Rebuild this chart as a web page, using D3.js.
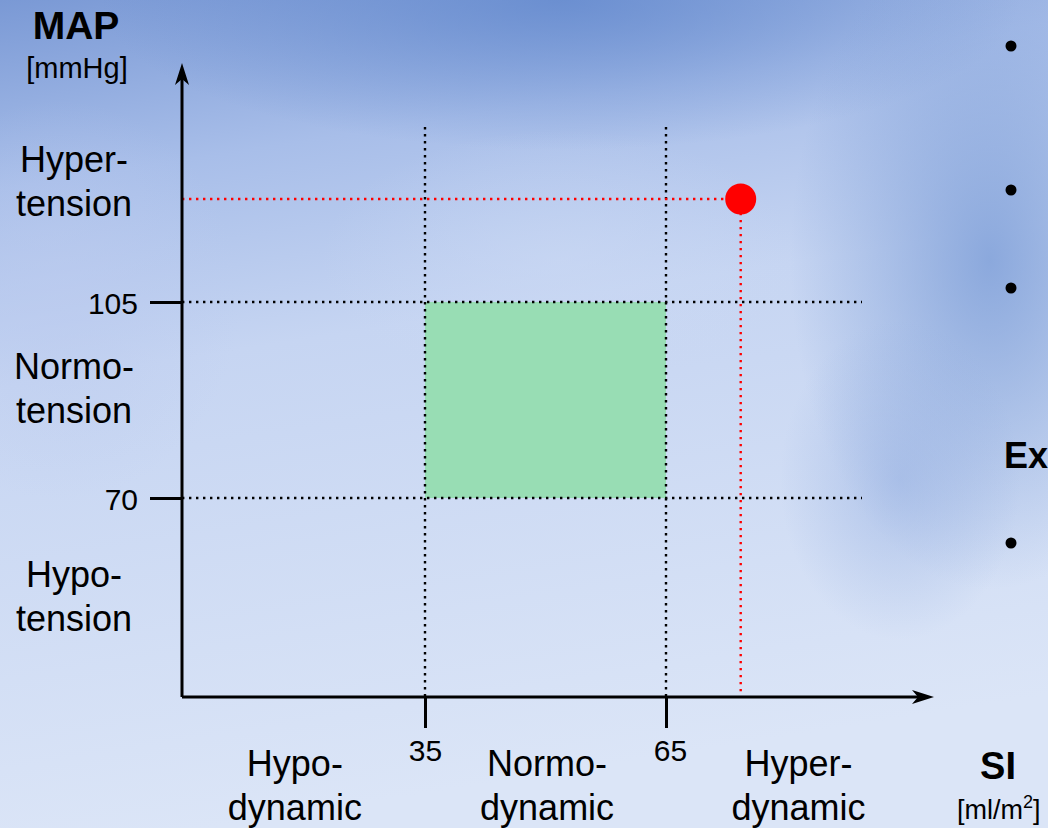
<!DOCTYPE html>
<html><head><meta charset="utf-8">
<script src="https://cdn.jsdelivr.net/npm/d3@7"></script>
<style>html,body{margin:0;padding:0;overflow:hidden;background:#c8d6f2}svg{display:block;font-family:"Liberation Sans",Arial,sans-serif}</style>
</head><body>
<script>
// ---- data ----
const siTicks = [35, 65];
const mapTicks = [70, 105];
const siCategories = [["Hypo-","dynamic"],["Normo-","dynamic"],["Hyper-","dynamic"]];
const mapCategories = [["Hyper-","tension"],["Normo-","tension"],["Hypo-","tension"]];
const siCategoryCenters = [18.8, 50.2, 81.5];   // SI values at label centres
const mapCategoryCenters = [128.2, 91.3, 54.1];  // MAP values at first-line baselines
const normalSI = [35, 65];
const normalMAP = [70, 105];
const patientSI = [74.3];
const patientMAP = [123.4];
const bulletRows = [46, 190, 288, 543];

const W = 1048, H = 828;
const svg = d3.select("body").append("svg").attr("width", W).attr("height", H);
const defs = svg.append("defs");

// background
const lg = defs.append("linearGradient").attr("id","bg").attr("x1","0").attr("y1","0").attr("x2","0.2").attr("y2","1");
[[0,"#7a99d5"],[0.22,"#a8bee9"],[0.45,"#c6d5f2"],[1,"#dbe5f7"]].forEach(s=>lg.append("stop").attr("offset",s[0]).attr("stop-color",s[1]));
svg.append("rect").attr("width",W).attr("height",H).attr("fill","url(#bg)");
function blob(id,cx,cy,r,col,op){
  const rg=defs.append("radialGradient").attr("id",id);
  rg.append("stop").attr("offset",0).attr("stop-color",col).attr("stop-opacity",op);
  rg.append("stop").attr("offset",1).attr("stop-color",col).attr("stop-opacity",0);
  svg.append("ellipse").attr("cx",cx).attr("cy",cy).attr("rx",r[0]).attr("ry",r[1]).attr("fill",`url(#${id})`);
}
blob("b1",560,0,[460,150],"#5f86cc",0.75);
blob("b2",990,260,[200,330],"#7c9dd7",0.8);
blob("b6",900,480,[120,160],"#8eaadf",0.5);
blob("b4",60,300,[180,200],"#bccbef",0.6);
blob("b5",560,260,[240,130],"#cbd9f4",0.55);
blob("b7",1040,780,[140,120],"#dbe5f7",0.7);

// scales
const x = d3.scaleLinear().domain([35,65]).range([425,666]);
const y = d3.scaleLinear().domain([70,105]).range([498,302]);
const x0 = 182, y0 = 697;

const g = svg.append("g");

// normal zone
g.append("rect").attr("x",x(normalSI[0])).attr("y",y(normalMAP[1]))
 .attr("width",x(normalSI[1])-x(normalSI[0])).attr("height",y(normalMAP[0])-y(normalMAP[1]))
 .attr("fill","#98ddb4");

// dotted grid lines
const xMaxGrid = x.invert(862), yMaxGrid = y.invert(127);
mapTicks.forEach(v=>g.append("line").attr("x1",x0).attr("x2",x(xMaxGrid)).attr("y1",y(v)).attr("y2",y(v))
  .attr("stroke","#000").attr("stroke-width",2.4).attr("stroke-dasharray","2.4,4.6"));
siTicks.forEach(v=>g.append("line").attr("x1",x(v)).attr("x2",x(v)).attr("y1",y(yMaxGrid)).attr("y2",y0)
  .attr("stroke","#000").attr("stroke-width",2.4).attr("stroke-dasharray","2.4,4.6"));

// patient point guides
patientSI.forEach((sv,i)=>{
  const mv = patientMAP[i];
  g.append("line").attr("x1",x0).attr("x2",x(sv)).attr("y1",y(mv)).attr("y2",y(mv))
    .attr("stroke","#ff0000").attr("stroke-width",2.4).attr("stroke-dasharray","2.4,4.6");
  g.append("line").attr("x1",x(sv)).attr("x2",x(sv)).attr("y1",y(mv)).attr("y2",y0)
    .attr("stroke","#ff0000").attr("stroke-width",2.4).attr("stroke-dasharray","2.4,4.6");
  g.append("circle").attr("cx",x(sv)).attr("cy",y(mv)).attr("r",15.5).attr("fill","#ff0000");
});

const FONT = "Liberation Sans, Arial, sans-serif";
// axes via d3 axis
const yAxis = d3.axisLeft(y).tickValues(mapTicks).tickSize(32).tickPadding(12).tickFormat(d3.format("d"));
const ya = g.append("g").attr("transform",`translate(${x0},0)`).call(yAxis);
ya.select(".domain").remove();
ya.selectAll(".tick line").attr("stroke","#000").attr("stroke-width",3);
ya.selectAll(".tick text").attr("font-size",30).attr("fill","#000").attr("font-family",FONT).attr("dy","0.38em");

const xAxis = d3.axisBottom(x).tickValues(siTicks).tickSize(31).tickPadding(12).tickFormat(d3.format("d"));
const xa = g.append("g").attr("transform",`translate(0,${y0})`).call(xAxis);
xa.select(".domain").remove();
xa.selectAll(".tick line").attr("stroke","#000").attr("stroke-width",3);
xa.selectAll(".tick text").attr("font-size",30).attr("fill","#000").attr("font-family",FONT).attr("dx",(d,i)=>i?4:0);

// axis lines with arrows
g.append("path").attr("d",`M${x0},${y0}V70`).attr("stroke","#000").attr("stroke-width",3).attr("fill","none");
g.append("path").attr("d",`M${x0},${y0}H926`).attr("stroke","#000").attr("stroke-width",3).attr("fill","none");
g.append("path").attr("d",`M${x0},63 L${x0-7},85 L${x0},79 L${x0+7},85Z`).attr("fill","#000");
g.append("path").attr("d",`M934,${y0} L912,${y0-7} L918,${y0} L912,${y0+7}Z`).attr("fill","#000");

// category labels
const fs = 36, lh = 44;
mapCategories.forEach((lines,i)=>{
  const t = g.append("text").attr("x",74).attr("y",y(mapCategoryCenters[i])).attr("text-anchor","middle").attr("font-size",fs);
  lines.forEach((l,j)=>t.append("tspan").attr("x",74).attr("dy",j?lh:0).text(l));
});
siCategories.forEach((lines,i)=>{
  const cx = x(siCategoryCenters[i]);
  const t = g.append("text").attr("x",cx).attr("y",776).attr("text-anchor","middle").attr("font-size",fs);
  lines.forEach((l,j)=>t.append("tspan").attr("x",cx).attr("dy",j?lh:0).text(l));
});

// axis titles
g.append("text").attr("x",76).attr("y",39).attr("text-anchor","middle").attr("font-size",39).attr("font-weight","bold").text("MAP");
g.append("text").attr("x",77).attr("y",78).attr("text-anchor","middle").attr("font-size",29).text("[mmHg]");
g.append("text").attr("x",998).attr("y",779).attr("text-anchor","middle").attr("font-size",38).attr("font-weight","bold").text("SI");
const si2 = g.append("text").attr("x",957).attr("y",819).attr("font-size",27);
si2.append("tspan").text("[ml/m");
si2.append("tspan").attr("font-size",18).attr("dy",-11).text("2");
si2.append("tspan").attr("dy",11).text("]");

// cropped slide text on the right
bulletRows.forEach(r=>g.append("circle").attr("cx",1011).attr("cy",r).attr("r",5.5).attr("fill","#000"));
g.append("text").attr("x",1004).attr("y",468).attr("font-size",36).attr("font-weight","bold").text("Ex");
</script>
</body></html>
